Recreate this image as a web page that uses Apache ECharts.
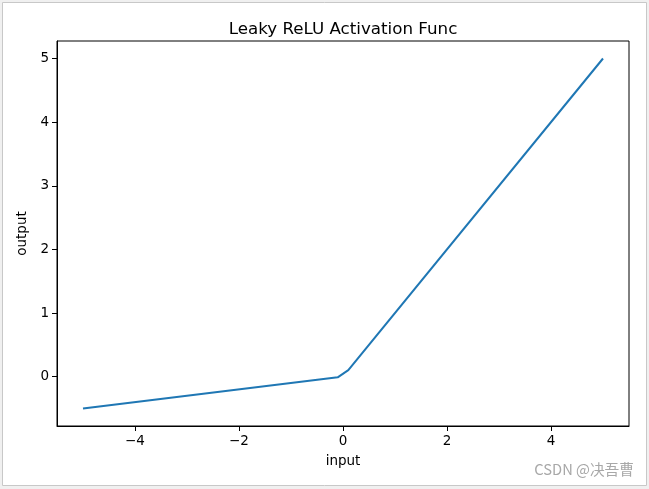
<!DOCTYPE html>
<html>
<head>
<meta charset="utf-8">
<script src="https://cdn.jsdelivr.net/npm/echarts@6/dist/echarts.min.js"></script>
<style>
html,body{margin:0;padding:0;background:#f0f0f0;}
#c{width:649px;height:489px;}
</style>
</head>
<body>
<div id="c"></div>
<script>
// Data (Leaky ReLU, key points of the polyline)
const xValues = [-5, -0.102, 0.102, 5];
const yValues = [-0.5, -0.0102, 0.102, 5];
const xTicks = [-4, -2, 0, 2, 4];
const yTicks = [0, 1, 2, 3, 4, 5];
const titleText = 'Leaky ReLU Activation Func';
const xLabel = 'input';
const yLabel = 'output';
const watermark = 'CSDN @决吾曹';

const font = 'DejaVu Sans';
const fmt = v => (v < 0 ? '\u2212' + (-v) : String(v));

const chart = echarts.init(document.getElementById('c'), null, {renderer: 'canvas'});
chart.setOption({
  backgroundColor: '#f0f0f0',
  animation: false,
  graphic: [
    {type: 'rect', z: -10, shape: {x: 2.5, y: 2.5, width: 644, height: 483},
     style: {fill: '#ffffff', stroke: '#c8c8c8', lineWidth: 1}},
    {type: 'text', right: 15, top: 462, z: 10,
     style: {text: watermark, fill: '#a8a8a8', font: '14.7px "Noto Sans CJK SC", "DejaVu Sans"'}}
  ],
  title: {
    text: titleText, left: 338, textAlign: 'center', top: 16,
    textStyle: {fontFamily: font, fontSize: 16.7, fontWeight: 'normal', color: '#000'}
  },
  grid: {left: 57, right: 20, top: 41, bottom: 63, show: true, borderColor: '#000', borderWidth: 1, backgroundColor: 'transparent'},
  xAxis: {
    type: 'value', min: -5.5, max: 5.5,
    name: xLabel, nameLocation: 'middle', nameGap: 28,
    nameTextStyle: {fontFamily: font, fontSize: 13.5, color: '#000'},
    axisLine: {show: true, onZero: false, lineStyle: {color: '#000', width: 1}},
    axisTick: {show: true, length: 5, customValues: xTicks, lineStyle: {color: '#000'}},
    axisLabel: {show: true, customValues: xTicks, formatter: fmt, fontFamily: font, fontSize: 13.5, color: '#000', margin: 8},
    splitLine: {show: false}
  },
  yAxis: {
    type: 'value', min: -0.775, max: 5.275,
    name: yLabel, nameLocation: 'middle', nameGap: 28, nameRotate: 90, nameMoveOverlap: false,
    nameTextStyle: {fontFamily: font, fontSize: 13.5, color: '#000'},
    axisLine: {show: true, onZero: false, lineStyle: {color: '#000', width: 1}},
    axisTick: {show: true, length: 5, customValues: yTicks, lineStyle: {color: '#000'}},
    axisLabel: {show: true, customValues: yTicks, formatter: fmt, fontFamily: font, fontSize: 13.5, color: '#000', margin: 8},
    splitLine: {show: false}
  },
  series: [{
    type: 'line',
    data: xValues.map((x, i) => [x, yValues[i]]),
    showSymbol: false,
    lineStyle: {color: '#1f77b4', width: 2},
    itemStyle: {color: '#1f77b4'}
  }]
});
</script>
</body>
</html>
